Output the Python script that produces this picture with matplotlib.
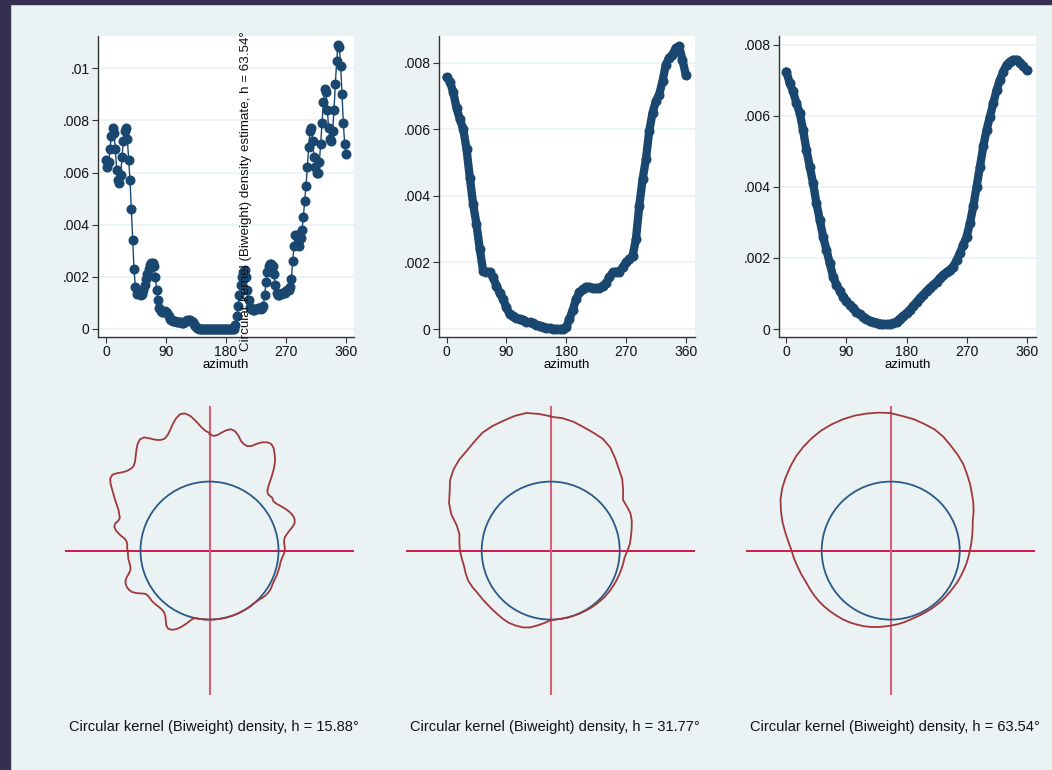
import numpy as np
import matplotlib
matplotlib.use("Agg")
import matplotlib.pyplot as plt
from matplotlib.patches import Rectangle, Circle

plt.rcParams['font.family'] = ['Liberation Sans', 'DejaVu Sans']

# circular kernel density estimates (values in units of 0.001)
az1 = np.arange(0, 361, 2)
dens1 = np.array([
    6.5, 6.2, 6.4, 6.9, 7.4, 7.7, 7.5, 6.9, 6.1, 5.7,
    5.6, 5.9, 6.6, 7.2, 7.6, 7.7, 7.3, 6.5, 5.7, 4.6,
    3.4, 2.3, 1.6, 1.35, 1.4, 1.45, 1.3, 1.35, 1.5, 1.7,
    1.9, 2.1, 2.3, 2.45, 2.55, 2.55, 2.4, 2.0, 1.5, 1.1,
    0.8, 0.68, 0.64, 0.65, 0.68, 0.66, 0.6, 0.5, 0.4, 0.33,
    0.3, 0.3, 0.3, 0.28, 0.27, 0.27, 0.25, 0.23, 0.23, 0.25,
    0.3, 0.33, 0.34, 0.33, 0.3, 0.25, 0.18, 0.1, 0.05, 0.02,
    0, 0, 0, 0, 0, 0, 0, 0, 0, 0,
    0, 0, 0, 0, 0, 0, 0, 0, 0, 0,
    0, 0, 0, 0, 0, 0, 0, 0.15, 0.5, 0.9,
    1.3, 1.7, 2.0, 2.2, 2.25, 2.0, 1.5, 1.1, 0.85, 0.75,
    0.72, 0.72, 0.75, 0.78, 0.8, 0.8, 0.78, 0.8, 0.9, 1.3,
    1.8, 2.2, 2.4, 2.5, 2.5, 2.4, 2.1, 1.7, 1.4, 1.3,
    1.3, 1.35, 1.4, 1.4, 1.4, 1.45, 1.5, 1.5, 1.6, 1.9,
    2.6, 3.2, 3.6, 3.6, 3.3, 3.2, 3.5, 3.8, 4.3, 4.9,
    5.5, 6.2, 7.0, 7.6, 7.7, 7.2, 6.6, 6.2, 6.0, 6.0,
    6.4, 7.1, 7.9, 8.7, 9.2, 9.1, 8.4, 7.7, 7.3, 7.2,
    7.6, 8.4, 9.4, 10.3, 10.9, 10.8, 10.1, 9.0, 7.9, 7.1,
    6.7]) / 1000

az2 = np.arange(0, 361, 5)
dens2 = np.array([
    7.57, 7.44, 7.12, 6.65, 6.3, 6.02, 5.42, 4.55, 3.75, 3.15,
    2.4, 1.75, 1.72, 1.72, 1.55, 1.3, 1.08, 0.9, 0.65, 0.44,
    0.38, 0.33, 0.29, 0.26, 0.22, 0.2, 0.17, 0.13, 0.1, 0.07,
    0.04, 0.02, 0, 0, 0, 0, 0.05, 0.3, 0.58, 0.9,
    1.1, 1.2, 1.27, 1.26, 1.22, 1.22, 1.24, 1.3, 1.38, 1.55,
    1.7, 1.72, 1.72, 1.85, 2.0, 2.1, 2.2, 2.7, 3.7, 4.5,
    5.1, 5.95, 6.5, 6.85, 7.05, 7.45, 7.95, 8.15, 8.25, 8.45,
    8.5, 8.1, 7.64]) / 1000

az3 = np.arange(0, 361, 5)
dens3 = np.array([
    7.25, 6.92, 6.69, 6.36, 6.08, 5.61, 5.04, 4.57, 4.10, 3.54,
    3.07, 2.60, 2.23, 1.85, 1.47, 1.25, 1.07, 0.91, 0.78, 0.67,
    0.58, 0.49, 0.41, 0.35, 0.28, 0.23, 0.2, 0.18, 0.15, 0.14,
    0.13, 0.14, 0.16, 0.21, 0.29, 0.37, 0.45, 0.54, 0.65, 0.76,
    0.87, 0.96, 1.07, 1.16, 1.24, 1.33, 1.43, 1.52, 1.6, 1.67,
    1.76, 1.94, 2.13, 2.37, 2.60, 2.98, 3.45, 4.01, 4.57, 5.14,
    5.61, 5.98, 6.36, 6.73, 7.01, 7.25, 7.44, 7.53, 7.58, 7.58,
    7.5, 7.4, 7.28]) / 1000

bandwidths = ['15.88', '31.77', '63.54']
xticks = [0, 90, 180, 270, 360]
yticks1 = [0, .002, .004, .006, .008, .01]
ylabels1 = ['0', '.002', '.004', '.006', '.008', '.01']
yticks23 = [0, .002, .004, .006, .008]
ylabels23 = ['0', '.002', '.004', '.006', '.008']

W, H = 1052, 770
bg = '#eaf2f3'
navy = '#1a476f'
dark = '#333333'


def box(l, r, t, b):
    return [l / W, 1 - b / H, (r - l) / W, (b - t) / H]


fig = plt.figure(figsize=(W / 100, H / 100), dpi=100, facecolor=bg)
fig.patches.append(Rectangle((0, 1 - 4 / H), 1, 4 / H, transform=fig.transFigure,
                             color='#35304f', zorder=0))
fig.patches.append(Rectangle((0, 0), 10 / W, 1, transform=fig.transFigure,
                             color='#35304f', zorder=0))

tops = [
    (az1, dens1, (98, 354), (-12, 372), (-0.000307, 0.01124), yticks1, ylabels1, False),
    (az2, dens2, (439, 695), (-11.4, 373.9), (-0.00024, 0.00881), yticks23, ylabels23, True),
    (az3, dens3, (779, 1036), (-11.1, 374), (-0.000225, 0.00825), yticks23, ylabels23, True),
]
for az, dens, (l, r), xl, yl, yt, ylab, thick in tops:
    ax = fig.add_axes(box(l, r, 36, 337))
    ax.set_facecolor('white')
    if thick:
        ax.plot(az, dens, '-', color=navy, lw=6, solid_capstyle='round',
                solid_joinstyle='round', zorder=3)
    ax.plot(az, dens, '-o', color=navy, lw=1, ms=6.2, zorder=4)
    ax.set_xlim(xl)
    ax.set_ylim(yl)
    ax.set_xticks(xticks)
    ax.set_yticks(yt)
    ax.set_yticklabels(ylab)
    ax.grid(axis='y', color=bg, lw=1.2)
    ax.set_axisbelow(True)
    for s in ['top', 'right']:
        ax.spines[s].set_visible(False)
    for s in ['left', 'bottom']:
        ax.spines[s].set_color(dark)
        ax.spines[s].set_linewidth(1)
    ax.tick_params(direction='out', length=4, color=dark, labelsize=10, pad=2,
                   labelcolor='#111111')
    ax.set_xlabel('azimuth', fontsize=9.5, labelpad=0)

centers = [209.5, 550.7, 890.7]
for cx, dens, az, bw in zip(centers, [dens1, dens2, dens3], [az1, az2, az3], bandwidths):
    ax = fig.add_axes(box(cx - 144.5, cx + 144.5, 550.6 - 144.5, 550.6 + 144.5))
    ax.set_facecolor('none')
    ax.set_xlim(-2.094, 2.094)
    ax.set_ylim(-2.094, 2.094)
    ax.set_aspect('equal')
    ax.axis('off')
    ax.axhline(0, color='#d01b45', lw=1.4, zorder=1)
    ax.axvline(0, color='#d4607c', lw=1.5, zorder=1)
    ax.add_patch(Circle((0, 0), 1, fill=False, ec='#2b5a86', lw=1.3, zorder=2))
    rad = np.sqrt(1 + 3.1 * dens / dens.max())
    th = np.radians(az)
    ax.plot(rad * np.sin(th), rad * np.cos(th), color='#a0383e', lw=1.3, zorder=3)
    fig.text(cx / W + 4 / W, 1 - 727 / H,
             'Circular kernel (Biweight) density, h = %s\u00b0' % bw,
             ha='center', va='center', fontsize=10.5, color='#111111')

# stray y-axis title left over from the combined graph
fig.text(246 / W, 1 - 191 / H,
         'Circular kernel (Biweight) density estimate, h = 63.54\u00b0',
         rotation=90, ha='center', va='center', fontsize=9.6, color='#111111')

fig.savefig('out.png', dpi=100, facecolor=bg)
